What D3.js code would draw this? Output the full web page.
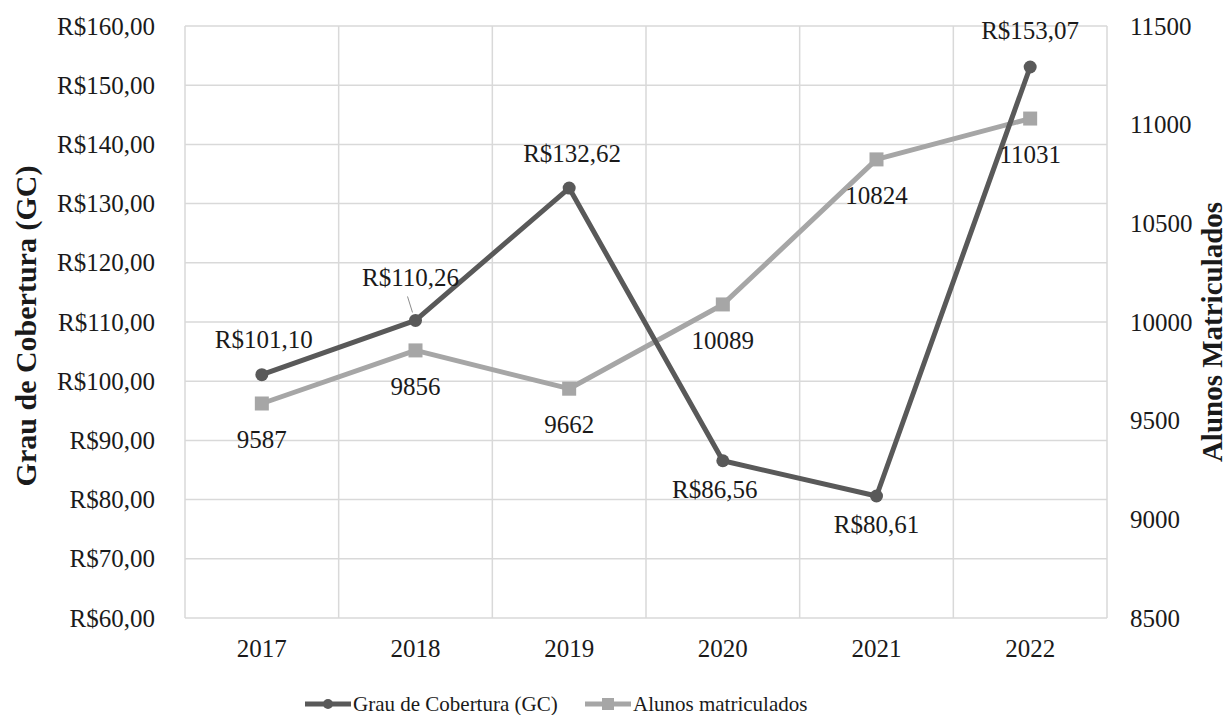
<!DOCTYPE html>
<html>
<head>
<meta charset="utf-8">
<script src="https://cdn.jsdelivr.net/npm/d3@7"></script>
<style>
  body { margin: 0; background: #fff; }
</style>
</head>
<body>
<div id="chart"></div>
<script>
// data
const years = ["2017", "2018", "2019", "2020", "2021", "2022"];
const gcValues = [101.10, 110.26, 132.62, 86.56, 80.61, 153.07];
const gcLabels = ["R$101,10", "R$110,26", "R$132,62", "R$86,56", "R$80,61", "R$153,07"];
const alunosValues = [9587, 9856, 9662, 10089, 10824, 11031];
const leftTicks = [60, 70, 80, 90, 100, 110, 120, 130, 140, 150, 160];
const rightTicks = [8500, 9000, 9500, 10000, 10500, 11000, 11500];

// label placement: above (-1) or below (+1) the point
const gcSide = [-1, -1, -1, 1, 1, -1];

const FONT = "'Liberation Serif', 'DejaVu Serif', Times, serif";

const width = 1231, height = 715;
const margin = { top: 26, right: 124, bottom: 97, left: 185 };
const innerW = width - margin.left - margin.right,
      innerH = height - margin.top - margin.bottom;

const dark = "#595959", light = "#a6a6a6", grid = "#d9d9d9";

const svg = d3.select("#chart").append("svg")
    .attr("width", width)
    .attr("height", height)
    .attr("font-family", FONT);

const g = svg.append("g")
    .attr("transform", "translate(" + margin.left + "," + margin.top + ")");

const x = d3.scaleBand().domain(years).range([0, innerW]);
const yL = d3.scaleLinear().domain([60, 160]).range([innerH, 0]);
const yR = d3.scaleLinear().domain([8500, 11500]).range([innerH, 0]);

// horizontal grid
g.selectAll(".hgrid")
    .data(leftTicks)
    .enter().append("line")
    .attr("class", "hgrid")
    .attr("x1", 0).attr("x2", innerW)
    .attr("y1", d => yL(d)).attr("y2", d => yL(d))
    .attr("stroke", grid).attr("stroke-width", 1.5);

// vertical grid at category boundaries
const bounds = years.map(d => x(d)).concat([innerW]);
g.selectAll(".vgrid")
    .data(bounds)
    .enter().append("line")
    .attr("class", "vgrid")
    .attr("x1", d => d).attr("x2", d => d)
    .attr("y1", 0).attr("y2", innerH)
    .attr("stroke", grid).attr("stroke-width", 1.5);

function styleAxis(ax) {
  ax.attr("font-family", FONT);
  ax.select(".domain").remove();
  ax.selectAll("text")
    .style("font-family", FONT)
    .style("font-size", "25px")
    .attr("fill", "#1a1a1a");
}

// left axis labels
const leftAxis = g.append("g")
    .call(d3.axisLeft(yL).tickValues(leftTicks).tickSize(0).tickPadding(30)
        .tickFormat(d => "R$" + d + ",00"));
styleAxis(leftAxis);

// right axis labels
const rightAxis = g.append("g")
    .attr("transform", "translate(" + innerW + ",0)")
    .call(d3.axisRight(yR).tickValues(rightTicks).tickSize(0).tickPadding(23)
        .tickFormat(d3.format("d")));
styleAxis(rightAxis);

// x axis labels
const xAxis = g.append("g")
    .attr("transform", "translate(0," + innerH + ")")
    .call(d3.axisBottom(x).tickSize(0).tickPadding(21));
styleAxis(xAxis);

const cx = d => x(d) + x.bandwidth() / 2;

// alunos line (drawn first, under GC line)
const lineR = d3.line().x((d, i) => cx(years[i])).y(d => yR(d));
g.append("path")
    .datum(alunosValues)
    .attr("d", lineR)
    .attr("fill", "none")
    .attr("stroke", light)
    .attr("stroke-width", 5)
    .attr("stroke-linejoin", "round");

g.selectAll(".sq")
    .data(alunosValues)
    .enter().append("rect")
    .attr("x", (d, i) => cx(years[i]) - 7)
    .attr("y", d => yR(d) - 7)
    .attr("width", 14).attr("height", 14)
    .attr("fill", light);

// GC line
const lineL = d3.line().x((d, i) => cx(years[i])).y(d => yL(d));
g.append("path")
    .datum(gcValues)
    .attr("d", lineL)
    .attr("fill", "none")
    .attr("stroke", dark)
    .attr("stroke-width", 5)
    .attr("stroke-linejoin", "round");

g.selectAll(".dot")
    .data(gcValues)
    .enter().append("circle")
    .attr("cx", (d, i) => cx(years[i]))
    .attr("cy", d => yL(d))
    .attr("r", 6.5)
    .attr("fill", dark);

// alunos labels (below)
g.selectAll(".alab")
    .data(alunosValues)
    .enter().append("text")
    .attr("x", (d, i) => cx(years[i]))
    .attr("y", d => yR(d) + 36)
    .attr("dy", "0.35em")
    .attr("text-anchor", "middle")
    .attr("fill", "#1a1a1a")
    .style("font-size", "25px")
    .text(d => d);

// GC labels
const gcOffX = [2, -5, 3, -8, 0, 0];
g.selectAll(".glab")
    .data(gcValues)
    .enter().append("text")
    .attr("x", (d, i) => cx(years[i]) + gcOffX[i])
    .attr("y", (d, i) => yL(d) + (gcSide[i] < 0 ? -35 : 28) + (i === 1 ? -8 : 0) + (i === 5 ? -2 : 0))
    .attr("dy", "0.35em")
    .attr("text-anchor", "middle")
    .attr("fill", "#1a1a1a")
    .style("font-size", "25px")
    .text((d, i) => gcLabels[i]);

// leader line for 2018 label
g.append("line")
    .attr("x1", cx("2018") - 8).attr("y1", yL(gcValues[1]) - 24)
    .attr("x2", cx("2018") - 3).attr("y2", yL(gcValues[1]) - 8)
    .attr("stroke", "#8c8c8c").attr("stroke-width", 1);

// axis titles
svg.append("text")
    .attr("transform", "translate(36,326) rotate(-90)")
    .attr("text-anchor", "middle")
    .attr("fill", "#1a1a1a")
    .style("font-size", "30px")
    .style("font-weight", "bold")
    .text("Grau de Cobertura (GC)");

svg.append("text")
    .attr("transform", "translate(1222,332) rotate(-90)")
    .attr("text-anchor", "middle")
    .attr("fill", "#1a1a1a")
    .style("font-size", "29px")
    .style("font-weight", "bold")
    .text("Alunos Matriculados");

// legend
const legendItems = [
  { name: "Grau de Cobertura (GC)", color: dark, shape: "circle", x: 305 },
  { name: "Alunos matriculados", color: light, shape: "square", x: 585 }
];
const legend = svg.selectAll(".legend")
    .data(legendItems)
    .enter().append("g")
    .attr("class", "legend")
    .attr("transform", d => "translate(" + d.x + ",704)");

legend.append("line")
    .attr("x1", 0).attr("x2", 46)
    .attr("y1", 0).attr("y2", 0)
    .attr("stroke", d => d.color)
    .attr("stroke-width", 5);

legend.each(function(d) {
  const el = d3.select(this);
  if (d.shape === "circle") {
    el.append("circle").attr("cx", 23).attr("cy", 0).attr("r", 5).attr("fill", d.color);
  } else {
    el.append("rect").attr("x", 17).attr("y", -6).attr("width", 12).attr("height", 12).attr("fill", d.color);
  }
});

legend.append("text")
    .attr("x", 48)
    .attr("y", 0)
    .attr("dy", "0.35em")
    .attr("fill", "#1a1a1a")
    .style("font-size", "21px")
    .text(d => d.name);
</script>
</body>
</html>
